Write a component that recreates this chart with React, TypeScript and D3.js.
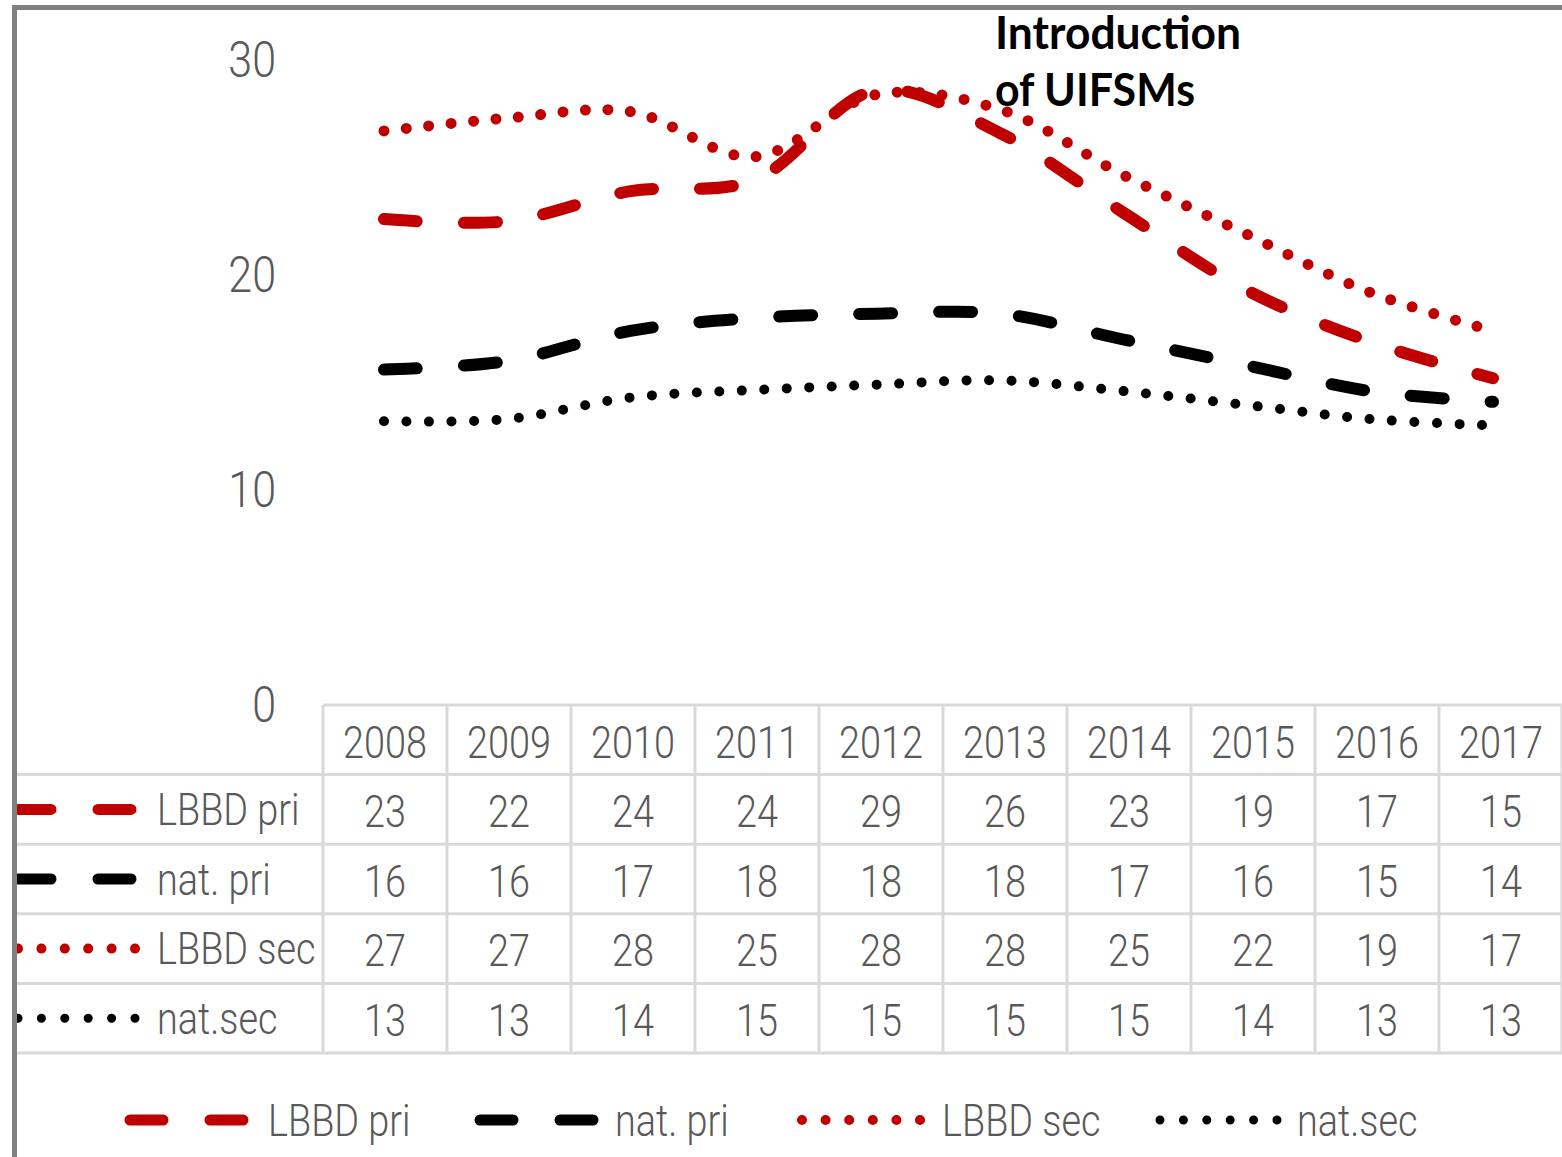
import * as d3 from "d3";
import { useEffect, useRef } from "react";

// values (lines) and the printed table
const years = ["2008", "2009", "2010", "2011", "2012", "2013", "2014", "2015", "2016", "2017"];
const lbbdPri = [22.6, 22.5, 23.9, 24.4, 28.6, 26.6, 22.9, 19.3, 16.9, 15.2];
const natPri = [15.6, 16.0, 17.4, 18.0, 18.2, 18.2, 17.0, 15.8, 14.6, 14.1];
const lbbdSec = [26.7, 27.3, 27.6, 25.5, 28.4, 27.7, 24.65, 21.9, 19.2, 17.4];
const natSec = [13.2, 13.3, 14.3, 14.65, 14.9, 15.1, 14.6, 13.95, 13.3, 13.0];

const lbbdPriTable = ["23", "22", "24", "24", "29", "26", "23", "19", "17", "15"];
const natPriTable = ["16", "16", "17", "18", "18", "18", "17", "16", "15", "14"];
const lbbdSecTable = ["27", "27", "28", "25", "28", "28", "25", "22", "19", "17"];
const natSecTable = ["13", "13", "14", "15", "15", "15", "15", "14", "13", "13"];

const seriesNames = ["LBBD pri", "nat. pri", "LBBD sec", "nat.sec"];
const yTicks = [0, 10, 20, 30];
const annotation = ["Introduction", "of UIFSMs"];

const WIDTH = 1562;
const HEIGHT = 1157;
const FONT = "Roboto, 'Open Sans', sans-serif";
const SQUEEZE = 0.86;
const TEXT_GREY = "#595959";
const RED = "#C00000";

const styles = [
  { color: RED, dash: "33 47", width: 12, dotted: false },
  { color: "#000", dash: "33 47", width: 12, dotted: false },
  { color: RED, dash: "0 22.5", width: 11, dotted: true },
  { color: "#000", dash: "0 22.5", width: 10, dotted: true },
];

const App = () => {
  const svgRef = useRef(null);

  const addText = (g, x, y, text, size, anchor) => {
    g.append("text")
      .attr("transform", `translate(${x},${y}) scale(${SQUEEZE},1)`)
      .attr("text-anchor", anchor)
      .attr("dy", "0.36em")
      .attr("font-size", size)
      .attr("font-family", FONT)
      .attr("font-weight", 300)
      .attr("fill", TEXT_GREY)
      .text(text);
  };

  // legend sample: dotted ones get exactly 6 dots between x1 and x2
  const addSymbol = (g, x1, x2, y, i) => {
    const st = styles[i];
    g.append("line")
      .attr("x1", x1)
      .attr("x2", x2 + 0.05)
      .attr("y1", y)
      .attr("y2", y)
      .attr("stroke", st.color)
      .attr("stroke-width", st.dotted ? st.width - 1 : st.width - 1)
      .attr("stroke-dasharray", st.dotted ? `0 ${(x2 - x1) / 5}` : st.dash)
      .attr("stroke-linecap", "round");
  };

  useEffect(() => {
    const svg = d3.select(svgRef.current);
    svg.selectAll("*").remove();

    const lineValues = [lbbdPri, natPri, lbbdSec, natSec];
    const tableValues = [lbbdPriTable, natPriTable, lbbdSecTable, natSecTable];

    const x = d3.scalePoint().domain(years).range([384, 1493]);
    const y = d3.scaleLinear().domain([0, 30]).range([705, 60]);
    const col = d3.scaleBand().domain(years).range([323, 1563]);
    const rowTop = 705;
    const rowH = 69.6;

    // y axis, labels only
    const yAxis = svg
      .append("g")
      .attr("transform", "translate(276,0)")
      .call(d3.axisLeft(y).tickValues(yTicks).tickSize(0).tickPadding(0));
    yAxis.select(".domain").remove();
    yAxis
      .selectAll("text")
      .attr("font-size", 50)
      .attr("font-family", FONT)
      .attr("font-weight", 300)
      .attr("fill", TEXT_GREY)
      .attr("transform", `scale(${SQUEEZE},1)`);

    // table grid
    const grid = svg.append("g").attr("stroke", "#d9d9d9").attr("stroke-width", 3);
    grid.append("line").attr("x1", 323).attr("x2", WIDTH).attr("y1", rowTop).attr("y2", rowTop);
    d3.range(1, 6).forEach((r) => {
      grid
        .append("line")
        .attr("x1", 15)
        .attr("x2", WIDTH)
        .attr("y1", rowTop + r * rowH)
        .attr("y2", rowTop + r * rowH);
    });
    years.concat(["end"]).forEach((yr, i) => {
      const xx = i < years.length ? col(yr) : col.range()[1] - 1;
      grid
        .append("line")
        .attr("x1", xx)
        .attr("x2", xx)
        .attr("y1", rowTop)
        .attr("y2", rowTop + 5 * rowH);
    });

    const table = svg.append("g");
    years.forEach((yr) => {
      addText(table, col(yr) + col.bandwidth() / 2, rowTop + rowH / 2 + 2, yr, 44, "middle");
    });
    tableValues.forEach((vals, s) => {
      const cy = rowTop + (s + 1.5) * rowH;
      addSymbol(table, 18, 135, cy, s);
      addText(table, 157, cy, seriesNames[s], 44, "start");
      vals.forEach((v, i) => {
        addText(table, col(years[i]) + col.bandwidth() / 2, cy + 2, v, 44, "middle");
      });
    });

    // lines
    const line = d3
      .line()
      .x((d, i) => x(years[i]))
      .y((d) => y(d))
      .curve(d3.curveCatmullRom);
    lineValues.forEach((vals, s) => {
      svg
        .append("path")
        .datum(vals)
        .attr("fill", "none")
        .attr("stroke", styles[s].color)
        .attr("stroke-width", styles[s].width)
        .attr("stroke-dasharray", styles[s].dash)
        .attr("stroke-linecap", "round")
        .attr("d", line);
    });

    // annotation
    annotation.forEach((t, i) => {
      svg
        .append("text")
        .attr("x", 995)
        .attr("y", 49 + i * 57)
        .attr("font-family", "Lato, 'Open Sans', sans-serif")
        .attr("font-weight", 700)
        .attr("font-size", 45)
        .attr("textLength", i === 0 ? 246 : 200)
        .attr("lengthAdjust", "spacingAndGlyphs")
        .attr("fill", "#000")
        .text(t);
    });

    // bottom legend
    const legendSym = [[130, 245], [480, 593], [802, 920], [1160, 1277]];
    const legendText = [268, 615, 942, 1297];
    const legend = svg.append("g");
    seriesNames.forEach((name, s) => {
      addSymbol(legend, legendSym[s][0], legendSym[s][1], 1120, s);
      addText(legend, legendText[s], 1120, name, 44, "start");
    });

    // outer frame
    svg
      .append("path")
      .attr("d", `M14.5,${HEIGHT} L14.5,7.5 L${WIDTH},7.5`)
      .attr("fill", "none")
      .attr("stroke", "#808080")
      .attr("stroke-width", 5);
  }, []);

  return (
    <svg
      ref={svgRef}
      width={WIDTH}
      height={HEIGHT}
      style={{ position: "absolute", left: 0, top: 0, background: "#fff" }}
    ></svg>
  );
};

export default App;
